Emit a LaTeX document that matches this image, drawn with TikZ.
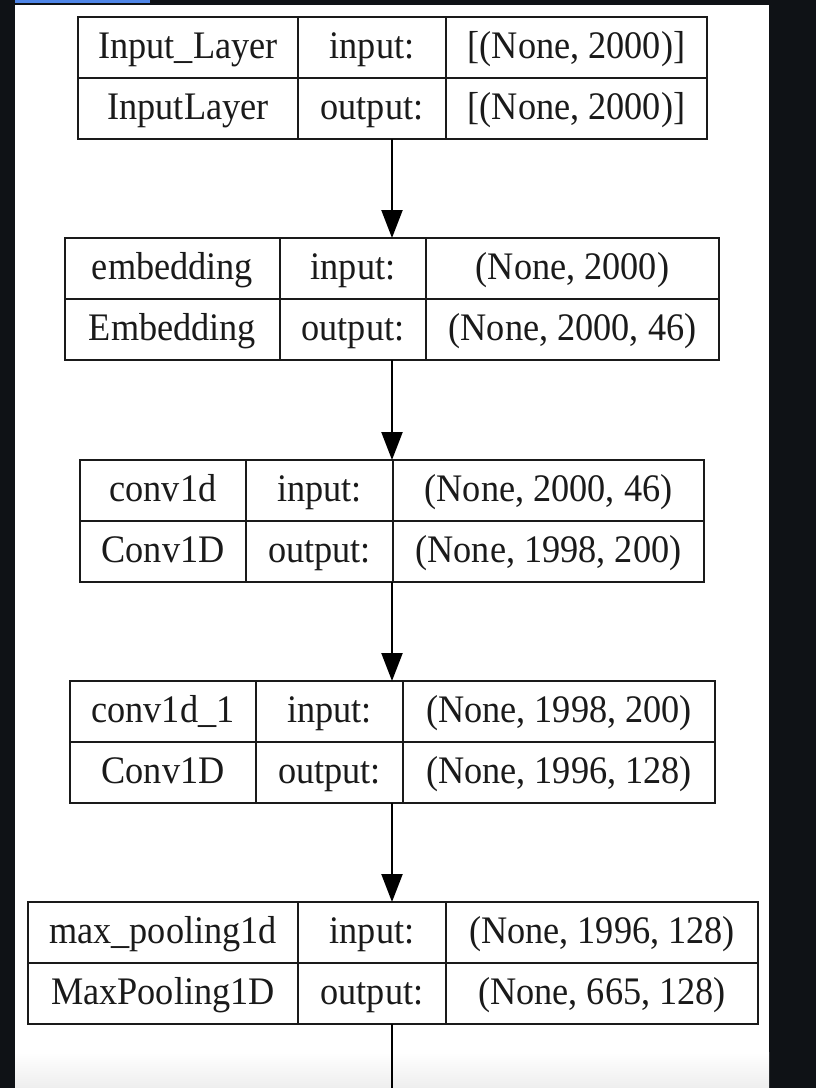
\documentclass[tikz,border=0pt]{standalone}
\usepackage{fontspec}
\setmainfont{Liberation Serif}[FakeStretch=0.93]
\usetikzlibrary{arrows.meta,calc}
\definecolor{bgdark}{HTML}{0F1216}
\definecolor{barblue}{HTML}{4F86E8}
\definecolor{ink}{HTML}{1A1A1A}
\definecolor{fadegray}{HTML}{EEEEEE}
\tikzset{
  layer/.style={draw=ink, line width=2.4pt, rectangle, inner sep=0pt, outer sep=0pt},
  divline/.style={draw=ink, line width=2.2pt},
  cell/.style={anchor=base, inner sep=0pt, text=ink, font=\fontsize{39}{45}\selectfont},
  flow/.style={draw=black, line width=2.2pt, -{Triangle[width=21pt,length=28pt]}},
  tail/.style={draw=black, line width=2.2pt},
}
\newcommand\kbox[6]{% name, left, top, c1, c2, right
  \def\kL{#2}\def\kT{#3}\def\kA{#4}\def\kB{#5}\def\kR{#6}
  \node[layer, minimum width={(#6-#2)*1pt}, minimum height=122pt, anchor=north west] (#1) at (#2,#3) {};
  \draw[divline] (#2,#3+61) -- (#6,#3+61);
  \draw[divline] (#4,#3) -- (#4,#3+122);
  \draw[divline] (#5,#3) -- (#5,#3+122);
}
\newcommand\kcells[5]{% name, layer name, class, in shape, out shape
  \node[cell] (#1-name)  at ({(\kL+\kA)/2}, \kT+41) {#2};
  \node[cell] (#1-class) at ({(\kL+\kA)/2}, \kT+102) {#3};
  \node[cell] (#1-inl)   at ({(\kA+\kB)/2}, \kT+41) {input:};
  \node[cell] (#1-outl)  at ({(\kA+\kB)/2}, \kT+102) {output:};
  \node[cell] (#1-ins)   at ({(\kB+\kR)/2}, \kT+41) {#4};
  \node[cell] (#1-outs)  at ({(\kB+\kR)/2}, \kT+102) {#5};
}
\begin{document}
\begin{tikzpicture}[x=1pt,y=-1pt]
\useasboundingbox (0,0) rectangle (816,1088);
\fill[bgdark] (0,0) rectangle (816,1088);
\fill[white] (15,5) rectangle (769,1088);
\shade[top color=white, bottom color=fadegray] (15,1052) rectangle (769,1088);
\fill[barblue] (15,0) rectangle (150,2.5);

\kbox{b1}{78}{17}{298}{446}{707}
\kcells{b1}{Input\_Layer}{InputLayer}{[(None, 2000)]}{[(None, 2000)]}
\kbox{b2}{65}{238}{280}{426}{719}
\kcells{b2}{embedding}{Embedding}{(None, 2000)}{(None, 2000, 46)}
\kbox{b3}{80}{460}{246}{393}{704}
\kcells{b3}{conv1d}{Conv1D}{(None, 2000, 46)}{(None, 1998, 200)}
\kbox{b4}{70}{681}{256}{403}{715}
\kcells{b4}{conv1d\_1}{Conv1D}{(None, 1998, 200)}{(None, 1996, 128)}
\kbox{b5}{28}{902}{298}{446}{758}
\kcells{b5}{max\_pooling1d}{MaxPooling1D}{(None, 1996, 128)}{(None, 665, 128)}

\coordinate (ax) at (392,0);
\coordinate (tailend) at (392,1088);
\draw[flow] (b1.south -| ax) -- (b2.north -| ax);
\draw[flow] (b2.south -| ax) -- (b3.north -| ax);
\draw[flow] (b3.south -| ax) -- (b4.north -| ax);
\draw[flow] (b4.south -| ax) -- (b5.north -| ax);
\draw[tail] (b5.south -| ax) -- (tailend);
\end{tikzpicture}
\end{document}
